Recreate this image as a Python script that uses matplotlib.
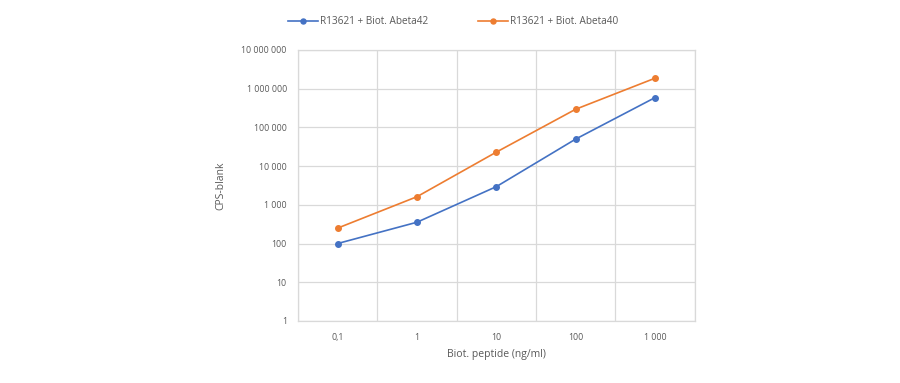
import matplotlib
matplotlib.use('Agg')
from matplotlib import pyplot as plt
from matplotlib.ticker import FixedLocator, FuncFormatter
import numpy as np

# data
categories = ['0,1', '1', '10', '100', '1 000']
abeta42 = [100, 355, 2950, 50000, 590000]
abeta40 = [250, 1620, 23000, 295000, 1870000]
label42 = 'R13621 + Biot. Abeta42'
label40 = 'R13621 + Biot. Abeta40'

BLUE = '#4472c4'
ORANGE = '#ed7d31'
GRID = '#d9d9d9'
TXT = '#595959'

plt.rcParams['font.family'] = ['Open Sans', 'DejaVu Sans']

fig = plt.figure(figsize=(9, 3.83), dpi=100)
ax = fig.add_axes([0.331, 0.162, 0.441, 0.7075])

x = np.arange(len(categories))
ax.plot(x, abeta42, color=BLUE, marker='o', markersize=4, linewidth=1.2, label=label42)
ax.plot(x, abeta40, color=ORANGE, marker='o', markersize=4, linewidth=1.2, label=label40)

ax.set_yscale('log')
ax.set_ylim(1, 1e7)
ax.set_xlim(-0.5, len(categories) - 0.5)

def fmt(v, pos):
    return f'{int(round(v)):,}'.replace(',', ' ')

ax.yaxis.set_major_locator(FixedLocator([10 ** i for i in range(8)]))
ax.yaxis.set_major_formatter(FuncFormatter(fmt))
ax.yaxis.set_minor_locator(FixedLocator([]))
ax.set_xticks(x)
ax.set_xticklabels(categories)
ax.xaxis.set_minor_locator(FixedLocator(np.arange(-0.5, len(categories), 1)))

ax.grid(True, which='major', axis='y', color=GRID, linewidth=0.9)
ax.grid(True, which='minor', axis='x', color=GRID, linewidth=0.9)
ax.tick_params(which='both', length=0, labelsize=6.3, colors=TXT, pad=8)
ax.tick_params(axis='x', pad=9)
for s in ax.spines.values():
    s.set_color(GRID)
    s.set_linewidth(0.9)
ax.set_axisbelow(True)

ax.set_ylabel('CPS-blank', fontsize=7.5, color=TXT, labelpad=11)
ax.set_xlabel('Biot. peptide (ng/ml)', fontsize=7.5, color=TXT, labelpad=5)

fig.legend(loc='center', bbox_to_anchor=(0.503, 0.943), ncol=2, frameon=False,
           fontsize=7.2, labelcolor=TXT, handlelength=3.0, handletextpad=0.2,
           columnspacing=5.0, markerscale=0.9)

fig.savefig('out.png', dpi=100)
